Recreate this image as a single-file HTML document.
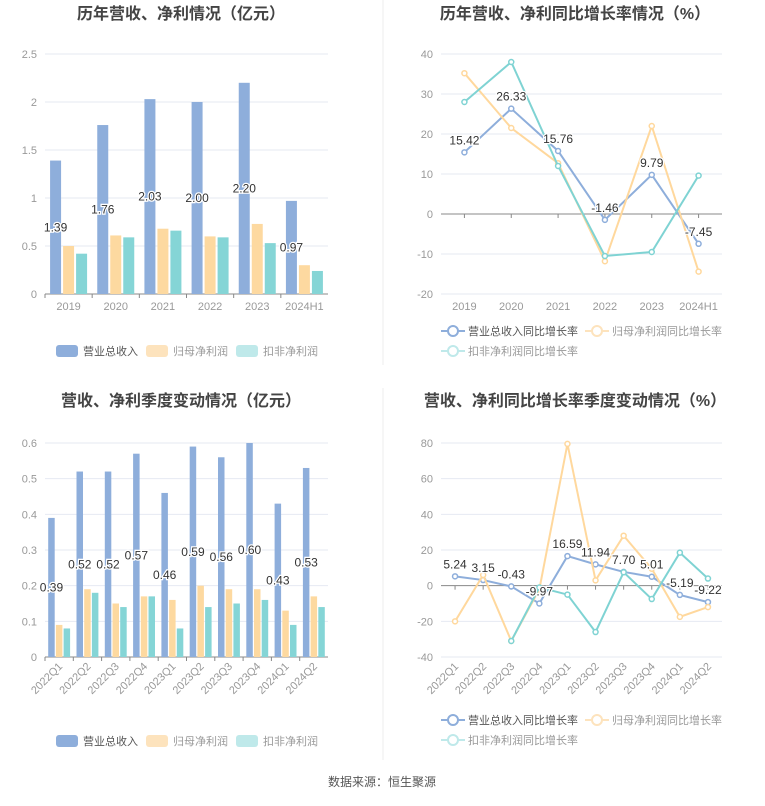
<!DOCTYPE html>
<html><head><meta charset="utf-8"><style>
body{margin:0;background:#fff;width:765px;height:801px;overflow:hidden;font-family:"Liberation Sans","Noto Sans CJK SC",sans-serif;}
svg text{font-family:"Liberation Sans","Noto Sans CJK SC",sans-serif;}
</style></head><body>
<svg id="s" width="765" height="801">
<line x1="383" y1="0" x2="383" y2="365" stroke="#eee"/>
<line x1="383" y1="388" x2="383" y2="760" stroke="#eee"/>
<text x="382" y="786" text-anchor="middle" font-size="12" fill="#555">数据来源：恒生聚源</text>
</svg>
<script>
const yearCats=["2019","2020","2021","2022","2023","2024H1"];
const yearRevenue=[1.39,1.76,2.03,2.00,2.20,0.97];
const yearNetProfit=[0.50,0.61,0.68,0.60,0.73,0.30];
const yearDeductProfit=[0.42,0.59,0.66,0.59,0.53,0.24];
const yearTicks=[0,0.5,1,1.5,2,2.5];
const yearRevGrowth=[15.42,26.33,15.76,-1.46,9.79,-7.45];
const yearNetGrowth=[35.2,21.5,12.7,-11.8,22.0,-14.4];
const yearDeductGrowth=[28.0,38.0,12.0,-10.5,-9.5,9.6];
const yearGrowthTicks=[-20,-10,0,10,20,30,40];
const qCats=["2022Q1","2022Q2","2022Q3","2022Q4","2023Q1","2023Q2","2023Q3","2023Q4","2024Q1","2024Q2"];
const qRevenue=[0.39,0.52,0.52,0.57,0.46,0.59,0.56,0.60,0.43,0.53];
const qNetProfit=[0.09,0.19,0.15,0.17,0.16,0.20,0.19,0.19,0.13,0.17];
const qDeductProfit=[0.08,0.18,0.14,0.17,0.08,0.14,0.15,0.16,0.09,0.14];
const qTicks=[0,0.1,0.2,0.3,0.4,0.5,0.6];
const qRevGrowth=[5.24,3.15,-0.43,-9.97,16.59,11.94,7.70,5.01,-5.19,-9.22];
const qNetGrowth=[-20,6,-31,-2,79.5,3,28,9.5,-17.5,-12];
const qDeductGrowth=[null,null,-31,-1,-5,-26,7.5,-7.5,18.5,4];
const qGrowthTicks=[-40,-20,0,20,40,60,80];

const NS="http://www.w3.org/2000/svg";
const S=document.getElementById('s');
const C=["#8eaedb","#fdd9a0","#85d5d6"];
const CL=["#8eaedb","#ffd89d","#7fd3d3"];
function el(tag,attrs,parent){const e=document.createElementNS(NS,tag);for(const k in attrs)e.setAttribute(k,attrs[k]);(parent||S).appendChild(e);return e;}
function txt(x,y,s,attrs){const t=el('text',Object.assign({x:x,y:y},attrs));t.textContent=s;return t;}

function frame(o){
  const g=el('g',{});
  
  
  const t=txt(o.tx,o.ty,o.title,{'text-anchor':'middle','font-size':'16','font-weight':'bold',fill:'#444'});
  
  
  const lo=o.ticks[0],hi=o.ticks[o.ticks.length-1];
  const y=v=>o.y0+(v-lo)/(hi-lo)*(o.y1-o.y0);
  o.ticks.forEach(v=>{
    const l=el('line',{x1:o.x0,x2:o.x1,y1:y(v),y2:y(v),stroke:v===0?'#888':'#e6e9f2'},g);
    
    
    const tl=txt(o.x0-8,y(v)+4,String(v),{'text-anchor':'end','font-size':'11',fill:'#999'});
    
    
  });
  const bw=(o.x1-o.x0)/o.cats.length;
  const cx=i=>o.x0+bw*(i+0.5);
  o.cats.forEach((c,i)=>{
    const tx=o.bars?o.x0+bw*i:cx(i);
    el('line',{x1:tx,x2:tx,y1:y(0),y2:y(0)+4,stroke:'#888'},g);
    let tl;
    const ly=o.y0;
    if(o.rot){tl=txt(cx(i)+4,ly+10,c,{'text-anchor':'end','font-size':'11',fill:'#999',transform:`rotate(-45 ${cx(i)+4} ${ly+10})`});}
    else tl=txt(cx(i),ly+16,c,{'text-anchor':'middle','font-size':'11',fill:'#999'});
    
    
  });
  return {g,y,cx,bw};
}
function bars(o,ax,series){
  const w=o.barW,gap=o.gap;
  series.forEach((arr,si)=>{
    arr.forEach((v,i)=>{
      const x=ax.cx(i)+(si-1)*(w+gap)-w/2;
      const r=el('rect',{x:x,y:ax.y(v),width:w,height:ax.y(0)-ax.y(v),fill:C[si]},ax.g);
      
      
    });
  });
  series[0].forEach((v,i)=>{
    const x=ax.cx(i)-(w+gap);
    const t=txt(x,ax.y(v/2)+4,v.toFixed(2),{'text-anchor':'middle','font-size':'12',fill:'#333',stroke:'#fff','stroke-width':'2.5','paint-order':'stroke'});
    
    
  });
}
function lines(o,ax,series){
  series.forEach((arr,si)=>{
    let d='';let pen=false;
    arr.forEach((v,i)=>{if(v===null){pen=false;return;}d+=(pen?'L':'M')+ax.cx(i)+' '+ax.y(v)+' ';pen=true;});
    const p=el('path',{d:d,fill:'none',stroke:CL[si],'stroke-width':'2'},ax.g);
    
    
    arr.forEach((v,i)=>{if(v===null)return;
      const c=el('circle',{cx:ax.cx(i),cy:ax.y(v),r:2.5,fill:'#fff',stroke:CL[si],'stroke-width':'1.5'},ax.g);
      
      
    });
  });
  series[0].forEach((v,i)=>{
    const t=txt(ax.cx(i),ax.y(v)-8,v.toFixed(2),{'text-anchor':'middle','font-size':'12',fill:'#333',stroke:'#fff','stroke-width':'2.5','paint-order':'stroke'});
    
    
  });
}
function barLegend(yL){
  const names=["营业总收入","归母净利润","扣非净利润"];
  const fills=["#8eaedb","#fde3bd","#bfe9ea"];
  names.forEach((n,i)=>{
    const x=56+i*90;
    const r=el('rect',{x:x,y:yL-6,width:22,height:12,rx:3,fill:fills[i]});
    
    
    const t=txt(x+27,yL+4,n,{'font-size':'11',fill:i===0?'#555':'#999'});
    
    
  });
}
function lineLegend(yL){
  const names=["营业总收入同比增长率","归母净利润同比增长率","扣非净利润同比增长率"];
  const pos=[[441,yL],[585,yL],[441,yL+20]];
  const cols=["#8eaedb","#fde3bd","#bfe9ea"];
  names.forEach((n,i)=>{
    const [x,yy]=pos[i];
    el('line',{x1:x,x2:x+24,y1:yy,y2:yy,stroke:cols[i],'stroke-width':'2'});
    const c=el('circle',{cx:x+12,cy:yy,r:5,fill:'#fff',stroke:cols[i],'stroke-width':'2'});
    
    
    const t=txt(x+27,yy+4,n,{'font-size':'11',fill:i===0?'#555':'#999'});
    
    
  });
}
// chart 1
let o1={name:'annual-bar-chart',title:'历年营收、净利情况（亿元）',tx:181,ty:19,x0:45,x1:328,y0:294,y1:54,ticks:yearTicks,cats:yearCats,barW:11,gap:2,bars:true};
let a1=frame(o1);bars(o1,a1,[yearRevenue,yearNetProfit,yearDeductProfit]);barLegend(351);
// chart 2
let o2={name:'annual-growth-chart',title:'历年营收、净利同比增长率情况（%）',tx:575,ty:19,x0:441,x1:722,y0:294,y1:54,ticks:yearGrowthTicks,cats:yearCats};
let a2=frame(o2);lines(o2,a2,[yearRevGrowth,yearNetGrowth,yearDeductGrowth]);lineLegend(331);
// chart 3
let o3={name:'quarterly-bar-chart',title:'营收、净利季度变动情况（亿元）',tx:181,ty:406,x0:45,x1:328,y0:657,y1:443,ticks:qTicks,cats:qCats,rot:true,barW:6.5,gap:1.2,bars:true};
let a3=frame(o3);bars(o3,a3,[qRevenue,qNetProfit,qDeductProfit]);barLegend(741);
// chart 4
let o4={name:'quarterly-growth-chart',title:'营收、净利同比增长率季度变动情况（%）',tx:575,ty:406,x0:441,x1:722,y0:657,y1:443,ticks:qGrowthTicks,cats:qCats,rot:true};
let a4=frame(o4);lines(o4,a4,[qRevGrowth,qNetGrowth,qDeductGrowth]);lineLegend(720);
</script>
</body></html>
